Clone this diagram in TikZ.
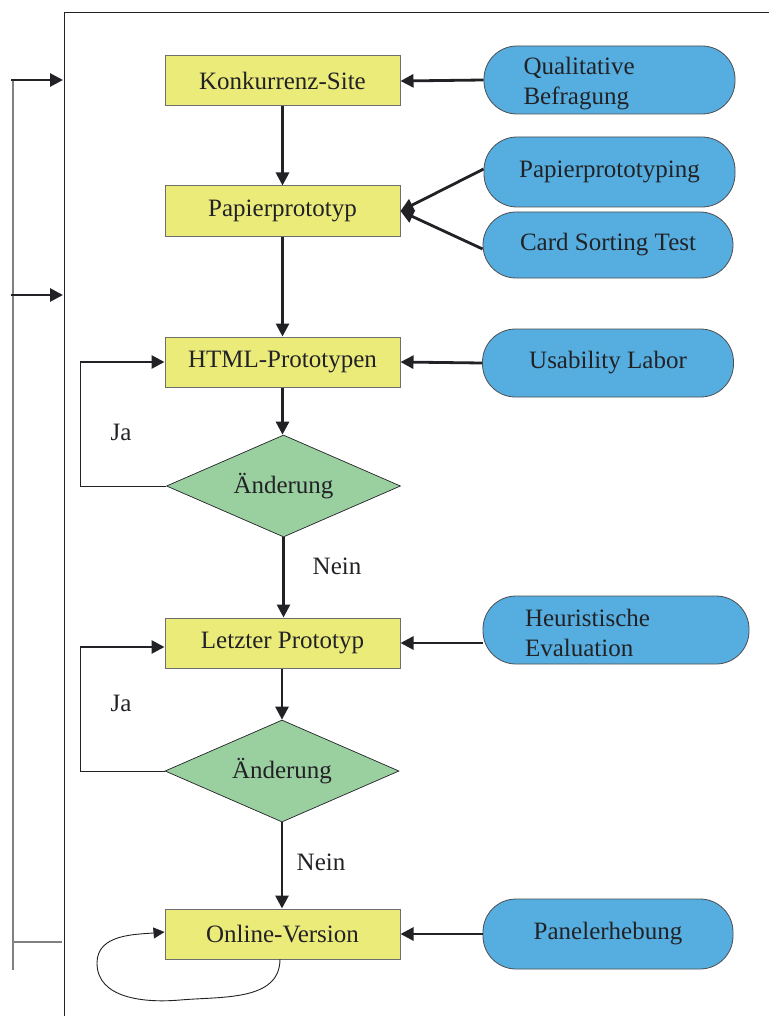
\documentclass[tikz,border=0pt]{standalone}
\usepackage{fontspec}
\setmainfont{Liberation Serif}
\usetikzlibrary{shapes.geometric,arrows.meta}
\definecolor{yel}{RGB}{235,235,122}
\definecolor{grn}{RGB}{154,207,160}
\definecolor{blu}{RGB}{85,174,223}
\definecolor{txt}{RGB}{34,34,38}
\definecolor{edge}{RGB}{110,110,110}
\begin{document}
\begin{tikzpicture}[x=1pt,y=-1pt,
  every node/.style={font=\fontsize{25}{30}\selectfont, text=txt},
  box/.style={draw=edge, line width=1pt, fill=yel, minimum width=235pt, minimum height=50pt, inner sep=0pt},
  dec/.style={diamond, aspect=2.29, draw=txt, line width=0.7pt, fill=grn, minimum width=234pt, minimum height=102pt, inner sep=0pt},
  meth/.style={draw=txt!80!white, line width=0.8pt, fill=blu, minimum width=251pt, minimum height=68pt, rounded corners=33pt, inner sep=0pt},
  arr/.style={-{Triangle[length=13pt,width=13pt]}, line width=2.8pt, draw=txt},
  thin/.style={line width=1pt, draw=txt},
  lbl/.style={inner sep=0pt}
]
\useasboundingbox (0,0) rectangle (769,1016);

% frame
\draw[thin] (64,1016) -- (64,13) -- (769,13);
% left bracket
\coordinate (b1) at (13,80);
\coordinate (b3) at (13,942);
\coordinate (b4) at (13,970);
\coordinate (t1) at (63,80);
\coordinate (t2) at (63,295);
\coordinate (t3) at (62,942);
\draw[line width=1.4pt, draw=gray] (b1) -- (b4);
\draw[line width=1.4pt, draw=gray] (b3) -- (t3);
\draw[arr] (11,80) -- (t1);
\draw[arr] (11,295) -- (t2);

% main boxes
\node[box] (k) at (282.5,81) {Konkurrenz-Site};
\node[box] (p) at (282.5,211) {Papierprototyp};
\node[box] (h) at (282.5,362) {HTML-Prototypen};
\node[dec] (d1) at (283.5,486) {Änderung};
\node[box] (l) at (282.5,643) {Letzter Prototyp};
\node[dec] (d2) at (282,771) {Änderung};
\node[box] (o) at (282.5,934) {Online-Version};

% method nodes
\node[meth] (q) at (609.5,80) {\smash{\raisebox{-10pt}{\parbox[c]{172pt}{\raggedright Qualitative\\Befragung}}}};
\node[meth, minimum height=70pt] (pp) at (609.5,172) {Papierprototyping};
\node[meth, minimum width=250pt, minimum height=66pt] (cs) at (608,245) {Card Sorting Test};
\node[meth] (ul) at (608,363) {Usability Labor};
\node[meth, minimum width=266pt] (he) at (616,630) {\smash{\raisebox{-9pt}{\parbox[c]{182pt}{\raggedright Heuristische\\Evaluation}}}};
\node[meth, minimum width=250pt, minimum height=70pt] (pa) at (608,934) {Panelerhebung};

% method arrows
\draw[arr] (q.west) -- (k.east);
\coordinate (pin) at (p.east);
\draw[arr] ([yshift=3pt]pp.west) -- (pin);
\draw[arr] ([yshift=-4pt]cs.west) -- (pin);
\draw[arr] (ul.west) -- (h.east);
\draw[arr] (l.east -| he.west) -- (l.east);
\draw[arr] (pa.west) -- (o.east);

% flow
\draw[arr] (k.south) -- (p.north);
\draw[arr] (p.south) -- (h.north);
\draw[arr] (h.south) -- (h.south |- d1.north);
\draw[arr] (d1.south) -- (l.north -| d1.south);
\draw[arr] (l.south -| d2.north) -- (d2.north);
\draw[arr] (d2.south) -- (o.north -| d2.south);

\node[lbl] (n1) at (337,566) {Nein};
\node[lbl] (n2) at (321,862) {Nein};

% Ja loops
\coordinate (c1) at (80,486);
\coordinate (c2) at (80,362);
\draw[thin] (d1.west) -- (c1) -- (c2);
\draw[arr] (c2) -- (h.west);
\node[lbl] (j1) at (121,432) {Ja};

\coordinate (c3) at (80,771);
\coordinate (c4) at (80,647);
\draw[thin] (d2.west) -- (c3) -- (c4);
\draw[arr] (c4) -- (l.west |- c4);
\node[lbl] (j2) at (121,703) {Ja};

% self loop
\coordinate (s0) at (280,959);
\draw[line width=0.9pt, draw=txt, -{Triangle[length=11pt,width=11pt]}]
  (s0) to[out=-90,in=5] (180,1000) to[out=185,in=-90] (97,963)
  to[out=90,in=185] (o.west |- 0,932);
\end{tikzpicture}
\end{document}
